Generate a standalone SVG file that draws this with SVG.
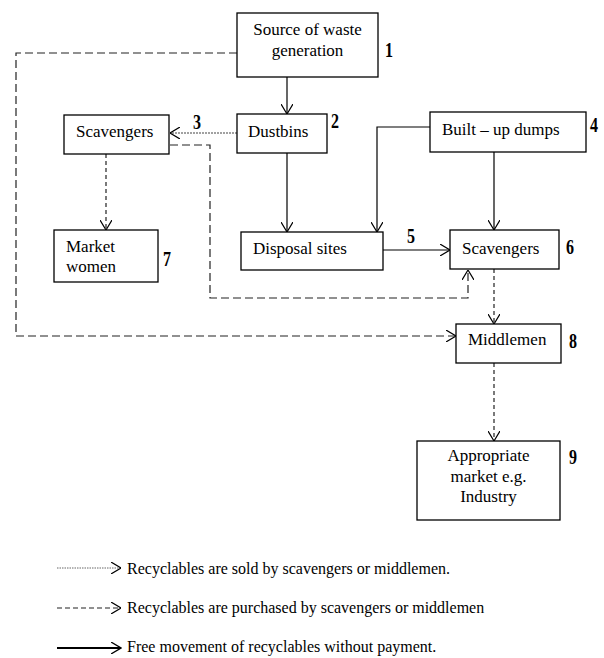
<svg xmlns="http://www.w3.org/2000/svg" width="604" height="658" viewBox="0 0 604 658">
<defs>
<style>
.box{fill:#fff;stroke:#000;stroke-width:1.3}
.t{font-family:"Liberation Serif","Times New Roman",serif;font-size:17px;fill:#000}
.lt{font-family:"Liberation Serif","Times New Roman",serif;font-size:16px;fill:#000}
.n{font-family:"Liberation Serif","Times New Roman",serif;font-size:22px;font-weight:bold;fill:#000}
.c{fill:none;stroke:#000;stroke-width:1.2}
.solid{marker-end:url(#ah)}
.sold{stroke:#222;stroke-dasharray:4 3;marker-end:url(#ah)}
.fine{stroke:#444;stroke-dasharray:2 1;marker-end:url(#ah)}
.purch{stroke:#222;stroke-dasharray:8 4;marker-end:url(#ah)}
</style>
<marker id="ah" viewBox="0 0 10 12" refX="10" refY="6" markerWidth="10" markerHeight="12" markerUnits="userSpaceOnUse" orient="auto">
<path d="M0,0 L10,6 L0,12" fill="none" stroke="#000" stroke-width="1.2" stroke-dasharray="none"/>
</marker>
</defs>
<rect width="604" height="658" fill="#fff"/>

<g id="connectors">
<path class="c solid" d="M287 77 V114"/>
<path class="c solid" d="M287 153 V232"/>
<path class="c solid" d="M430 127 H377 V232"/>
<path class="c solid" d="M494 152 V230"/>
<path class="c solid" d="M383 250 H450"/>
<path class="c fine" d="M237 133 H170"/>
<path class="c sold" d="M106 154 V230"/>
<path class="c sold" d="M494 269 V324"/>
<path class="c sold" d="M494 363 V441"/>
<path class="c purch" d="M170 145 H210 V298 H468 V270"/>
<path class="c purch" d="M237 53 H16 V336 H456"/>
</g>

<g id="n1">
<rect class="box" x="237" y="13" width="141" height="64"/>
<text class="t" x="307.5" y="35" text-anchor="middle">Source of waste</text>
<text class="t" x="307.5" y="56" text-anchor="middle">generation</text>
<text class="n" x="385" y="57" textLength="8" lengthAdjust="spacingAndGlyphs">1</text>
</g>
<g id="n2">
<rect class="box" x="237" y="114" width="90" height="39"/>
<text class="t" x="248" y="137">Dustbins</text>
<text class="n" x="331" y="128" textLength="8" lengthAdjust="spacingAndGlyphs">2</text>
</g>
<g id="n3">
<rect class="box" x="64" y="115" width="105" height="39"/>
<text class="t" x="76" y="137">Scavengers</text>
<text class="n" x="193" y="129" textLength="8" lengthAdjust="spacingAndGlyphs">3</text>
</g>
<g id="n4">
<rect class="box" x="430" y="112" width="156" height="40"/>
<text class="t" x="442" y="135">Built – up dumps</text>
<text class="n" x="590" y="132" textLength="8" lengthAdjust="spacingAndGlyphs">4</text>
</g>
<g id="n5">
<rect class="box" x="241" y="232" width="142" height="38"/>
<text class="t" x="253" y="254">Disposal sites</text>
<text class="n" x="407" y="243" textLength="8" lengthAdjust="spacingAndGlyphs">5</text>
</g>
<g id="n6">
<rect class="box" x="450" y="230" width="109" height="39"/>
<text class="t" x="462" y="254">Scavengers</text>
<text class="n" x="566" y="254" textLength="8" lengthAdjust="spacingAndGlyphs">6</text>
</g>
<g id="n7">
<rect class="box" x="54" y="230" width="104" height="52"/>
<text class="t" x="66" y="252">Market</text>
<text class="t" x="66" y="272">women</text>
<text class="n" x="163" y="266" textLength="8" lengthAdjust="spacingAndGlyphs">7</text>
</g>
<g id="n8">
<rect class="box" x="456" y="324" width="105" height="39"/>
<text class="t" x="468" y="345">Middlemen</text>
<text class="n" x="569" y="348" textLength="8" lengthAdjust="spacingAndGlyphs">8</text>
</g>
<g id="n9">
<rect class="box" x="417" y="441" width="143" height="79"/>
<text class="t" x="488.5" y="461" text-anchor="middle">Appropriate</text>
<text class="t" x="488.5" y="482" text-anchor="middle">market e.g.</text>
<text class="t" x="488.5" y="502" text-anchor="middle">Industry</text>
<text class="n" x="569" y="464" textLength="8" lengthAdjust="spacingAndGlyphs">9</text>
</g>

<g id="legend">
<path d="M57 568 H121" fill="none" stroke="#666" stroke-width="1" stroke-dasharray="1.5 1" marker-end="url(#ah)"/>
<text class="lt" x="127" y="574">Recyclables are sold by scavengers or middlemen.</text>
<path d="M57 608 H121" fill="none" stroke="#222" stroke-width="1.1" stroke-dasharray="5 3" marker-end="url(#ah)"/>
<text class="lt" x="127" y="613">Recyclables are purchased by scavengers or middlemen</text>
<path d="M57 648 H121" fill="none" stroke="#000" stroke-width="2" marker-end="url(#ah2)"/>
<text class="lt" x="127" y="652">Free movement of recyclables without payment.</text>
</g>
<defs>
<marker id="ah2" viewBox="0 0 10 12" refX="10" refY="6" markerWidth="11" markerHeight="12" markerUnits="userSpaceOnUse" orient="auto">
<path d="M0,0 L10,6 L0,12" fill="none" stroke="#000" stroke-width="1.3"/>
</marker>
</defs>
</svg>
